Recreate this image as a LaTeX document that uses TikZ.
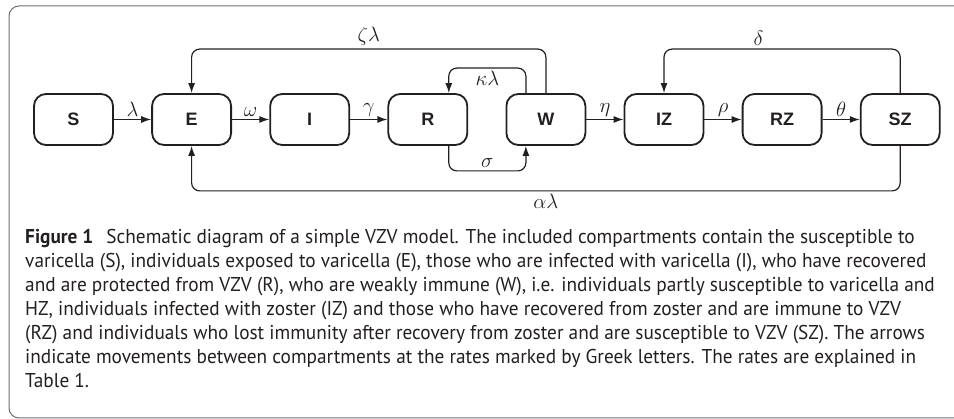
\documentclass[tikz,border=0pt]{standalone}
\usepackage{amsmath,amssymb}
\usepackage{fontspec}
\usepackage{tikz}
\usetikzlibrary{positioning,arrows.meta}
\setsansfont{Liberation Sans}
\newfontfamily\capfont[FakeStretch=0.965]{PT Sans}
\definecolor{ink}{HTML}{231F20}
\definecolor{framegray}{HTML}{6D6E71}

\begin{document}
\begin{tikzpicture}[x=1pt, y=1pt, node distance=37.3pt,
            compartment/.style={draw=ink, line width=1.8pt, rounded corners=12pt, minimum width=79pt, minimum height=51pt, text=ink, font=\sffamily\bfseries\fontsize{18}{20}\selectfont},
            flow/.style={draw=ink, line width=1.2pt, rounded corners=8pt, -{Latex[length=10pt, width=7pt]}},
            rate/.style={text=ink, inner sep=2.5pt, font=\fontsize{21}{23}\selectfont}]

            \clip (0,0) rectangle (954,419);
            \draw [framegray, line width=1pt, rounded corners=10pt] (9,1) rectangle (970,413);

            \node [compartment] (S) at (73.5,299.5) {S};
            \node [compartment, right=of S] (E) {E};
            \node [compartment, right=of E] (I) {I};
            \node [compartment, right=of I] (R) {R};
            \node [compartment, right=of R] (W) {W};
            \node [compartment, right=of W] (IZ) {IZ};
            \node [compartment, right=of IZ] (RZ) {RZ};
            \node [compartment, right=of RZ] (SZ) {SZ};

            \foreach \from/\to/\r in {S/E/\lambda, E/I/\omega, I/R/\gamma, W/IZ/\eta, IZ/RZ/\rho, RZ/SZ/\theta} {
              \draw [flow] (\from) -- (\to) node [rate, midway, above] {$\r$};
            }

            \draw [flow] (W.north) -- ++(0,44) -| (E.north) node [rate, pos=0.25, above] {$\zeta\lambda$};
            \draw [flow] ([xshift=-20pt]W.north) -- ++(0,25) -| ([xshift=21pt]R.north) node [rate, pos=0.25, below] {$\kappa\lambda$};
            \draw [flow] ([xshift=21pt]R.south) -- ++(0,-25) -| ([xshift=-20pt]W.south) node [rate, pos=0.25, above] {$\sigma$};
            \draw [flow] (SZ.north) -- ++(0,44) -| (IZ.north) node [rate, pos=0.3, above] {$\delta$};
            \draw [flow] (SZ.south) -- ++(0,-45) -| (E.south) node [rate, pos=0.25, below] {$\alpha\lambda$};

            \node (caption) [anchor=north west, align=left, inner sep=0pt, text=ink, font=\capfont\fontsize{20}{24}\selectfont] at (25,190) {%
              \textbf{Figure 1}\hspace{0.4em} Schematic diagram of a simple VZV model. The included compartments contain the susceptible to\\
              varicella (S), individuals exposed to varicella (E), those who are infected with varicella (I), who have recovered\\
              and are protected from VZV (R), who are weakly immune (W), i.e. individuals partly susceptible to varicella and\\
              HZ, individuals infected with zoster (IZ) and those who have recovered from zoster and are immune to VZV\\
              (RZ) and individuals who lost immunity after recovery from zoster and are susceptible to VZV (SZ). The arrows\\
              indicate movements between compartments at the rates marked by Greek letters. The rates are explained in\\
              Table 1.};
            \end{tikzpicture}
\end{document}
